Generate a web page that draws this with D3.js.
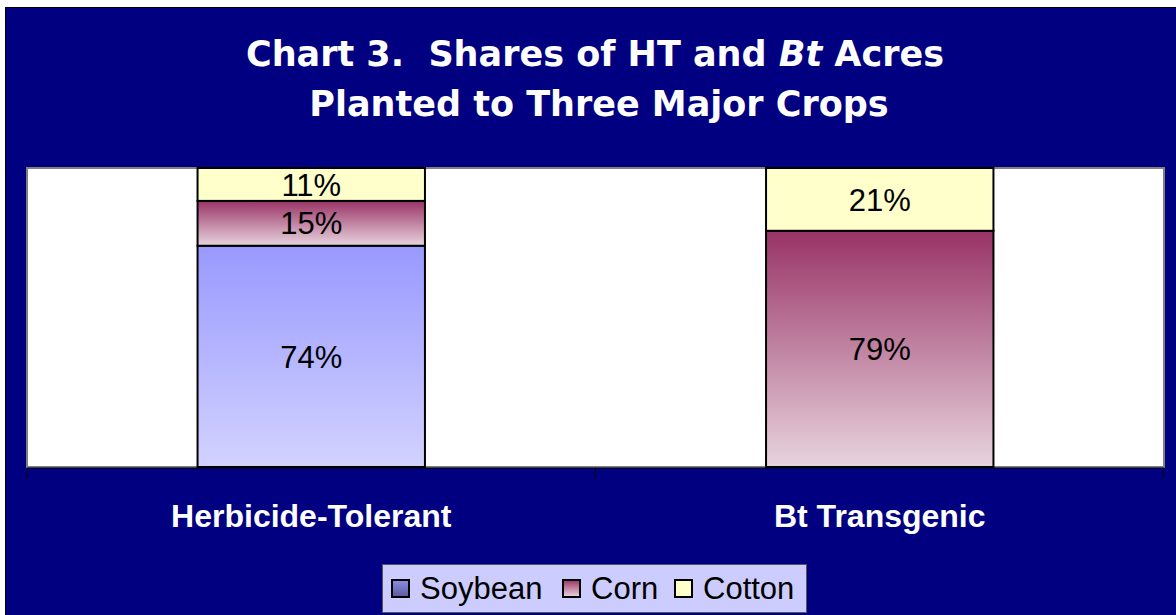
<!DOCTYPE html>
<html><head><meta charset="utf-8">
<script src="https://cdn.jsdelivr.net/npm/d3@7"></script>
<style>html,body{margin:0;padding:0;background:#fff;}svg{display:block;}</style>
</head><body>
<script>
const categories = ["Herbicide-Tolerant", "Bt Transgenic"];
const seriesNames = ["Soybean", "Corn", "Cotton"];
const soybean = [74, 0];
const corn = [15, 79];
const cotton = [11, 21];

(function () {
const W = 1176, H = 615;
const svg = d3.select("body").append("svg").attr("width", W).attr("height", H);
const defs = svg.append("defs");
const grads = {
  Soybean: ["#9999FF", "#D2D2FF"],
  Corn: ["#993366", "#E8D4DE"],
  Cotton: ["#FFFFCC", "#FFFFCC"],
  LSoybean: ["#8C8CE6", "#5A5A9C"],
  LCorn: ["#993366", "#EED6E0"],
  LCotton: ["#FFFFCC", "#FFFFCC"]
};
Object.entries(grads).forEach(([k, c]) => {
  const g = defs.append("linearGradient").attr("id", "g" + k)
    .attr("x1", 0).attr("y1", 0).attr("x2", 0).attr("y2", 1);
  g.append("stop").attr("offset", "0%").attr("stop-color", c[0]);
  g.append("stop").attr("offset", "100%").attr("stop-color", c[1]);
});

// background
svg.append("rect").attr("x", 5.5).attr("y", 7.5).attr("width", W).attr("height", H)
  .attr("fill", "#000080").attr("stroke", "#000").attr("stroke-width", 1);

// title
const title = svg.append("text").attr("text-anchor", "middle")
  .attr("font-family", "DejaVu Sans, Verdana, sans-serif").attr("font-weight", "bold")
  .attr("font-size", 35).attr("fill", "#fff").style("white-space", "pre");
const t1 = title.append("tspan").attr("x", 595).attr("y", 66);
t1.append("tspan").text("Chart 3.  Shares of HT and ");
t1.append("tspan").attr("font-style", "italic").text("Bt");
t1.append("tspan").text(" Acres");
title.append("tspan").attr("x", 599).attr("y", 116).text("Planted to Three Major Crops");

// plot
const pL = 27, pR = 1164, pT = 168, pB = 467;
svg.append("rect").attr("x", pL).attr("y", pT).attr("width", pR - pL).attr("height", pB - pT)
  .attr("fill", "#fff").attr("stroke", "#808080").attr("stroke-width", 2);

const x = d3.scaleBand().domain(categories).range([pL, pR]).paddingInner(0.6).paddingOuter(0.3);
const y = d3.scaleLinear().domain([0, 100]).range([pB, pT]);

const data = categories.map((c, i) => ({ cat: c, Soybean: soybean[i], Corn: corn[i], Cotton: cotton[i] }));
const stack = d3.stack().keys(seriesNames)(data);

stack.forEach(layer => {
  const key = layer.key;
  layer.forEach(d => {
    const v = d[1] - d[0];
    if (v <= 0) return;
    svg.append("rect").attr("x", x(d.data.cat)).attr("y", y(d[1]))
      .attr("width", x.bandwidth()).attr("height", y(d[0]) - y(d[1]))
      .attr("fill", "url(#g" + key + ")").attr("stroke", "#000").attr("stroke-width", 2);
  });
});
stack.forEach(layer => {
  layer.forEach(d => {
    const v = d[1] - d[0];
    if (v <= 0) return;
    svg.append("text").attr("x", x(d.data.cat) + x.bandwidth() / 2)
      .attr("y", (y(d[0]) + y(d[1])) / 2).attr("dy", "0.36em")
      .attr("text-anchor", "middle").attr("font-family", "Liberation Sans, Arial, sans-serif")
      .attr("font-size", 31).attr("fill", "#000").text(v + "%");
  });
});

// x axis
const xAxisScale = d3.scaleLinear().domain([0, 2]).range([pL, pR - 1]);
const ax = svg.append("g").attr("transform", `translate(0,${pB + 1})`);
ax.append("line").attr("x1", pL).attr("x2", pR).attr("y1", 0).attr("y2", 0).attr("stroke", "#000").attr("stroke-width", 1);
[0, 1, 2].forEach(t => ax.append("line").attr("x1", xAxisScale(t) + 0.5).attr("x2", xAxisScale(t) + 0.5)
  .attr("y1", 0).attr("y2", 11).attr("stroke", "#000"));
categories.forEach(c => {
  svg.append("text").attr("x", x(c) + x.bandwidth() / 2).attr("y", 527)
    .attr("text-anchor", "middle").attr("font-family", "Liberation Sans, Arial, sans-serif")
    .attr("font-weight", "bold").attr("font-size", 32).attr("fill", "#fff").text(c);
});

// legend
const lg = svg.append("g");
lg.append("rect").attr("x", 382.5).attr("y", 564.5).attr("width", 424).attr("height", 48)
  .attr("fill", "#CCCCFF").attr("stroke", "#555").attr("stroke-width", 1);
const legX = [392, 563, 675];
seriesNames.forEach((s, i) => {
  lg.append("rect").attr("x", legX[i]).attr("y", 580).attr("width", 17).attr("height", 17)
    .attr("fill", "url(#gL" + s + ")").attr("stroke", "#000").attr("stroke-width", 2);
  lg.append("text").attr("x", legX[i] + 28).attr("y", 599)
    .attr("font-family", "Liberation Sans, Arial, sans-serif").attr("font-size", 31)
    .attr("fill", "#000").text(s);
});
})();
</script>
</body></html>
